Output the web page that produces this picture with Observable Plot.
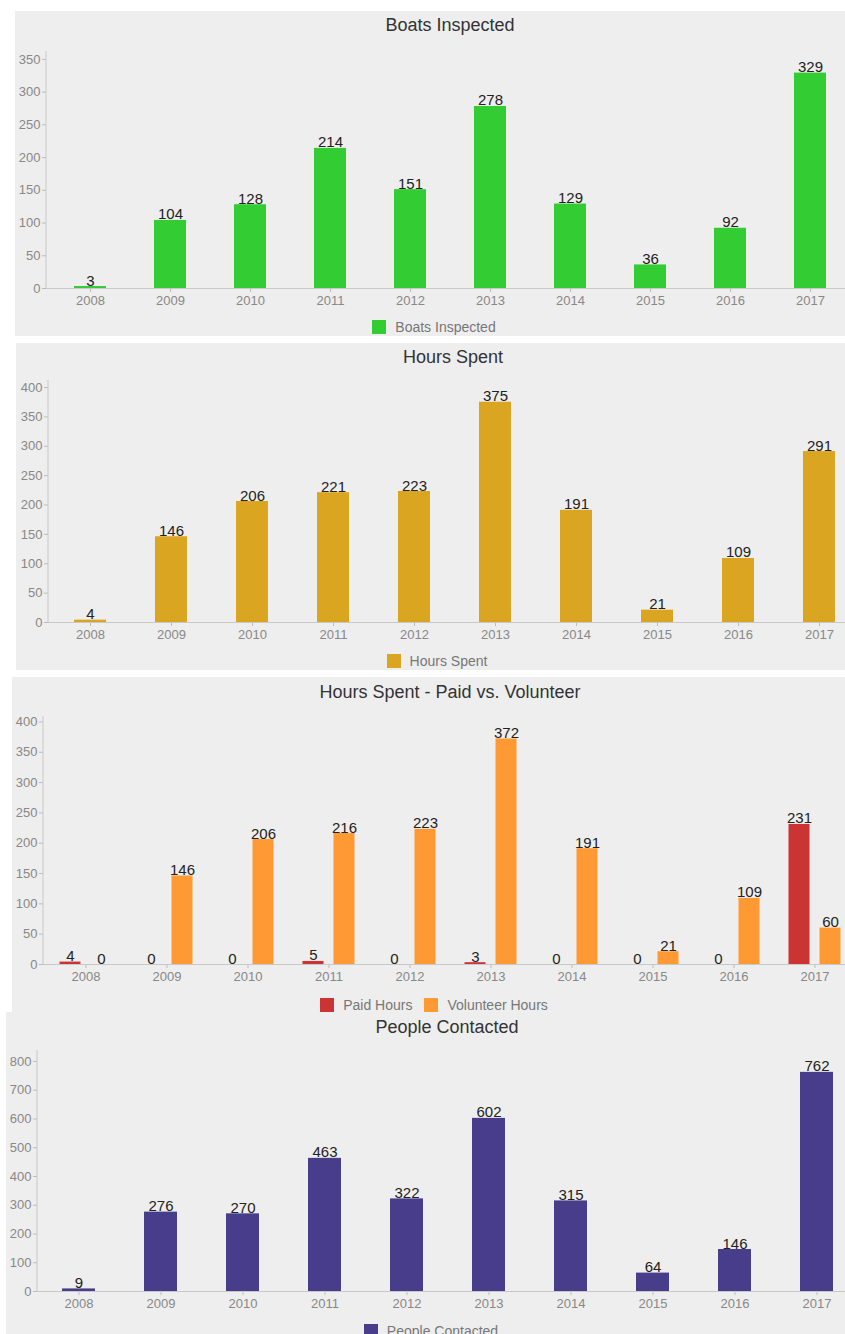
<!DOCTYPE html>
<html>
<head>
<meta charset="utf-8">
<script src="https://cdn.jsdelivr.net/npm/d3@7"></script>
<script src="https://cdn.jsdelivr.net/npm/@observablehq/plot@0.6"></script>
<style>
  html, body { margin: 0; padding: 0; background: #fff; overflow: hidden; width: 845px; height: 1334px; }
  body { position: relative; font-family: "Liberation Sans", Arial, Helvetica, sans-serif; }
  .panel { position: absolute; background: #eeeeee; overflow: hidden; }
  .title { position: absolute; left: 0; width: 100%; text-align: center; font-size: 18px; color: #333; line-height: 20px; }
  .legend { position: absolute; left: 0; width: 100%; box-sizing: border-box; padding-right: 32px; display: flex; justify-content: center; align-items: center; gap: 12px; font-size: 14px; color: #777; line-height: 16px; }
  .legend .item { display: flex; align-items: center; gap: 9px; }
  .legend .sw { width: 14px; height: 14px; display: inline-block; }
  .panel svg { position: absolute; left: 0; top: 0; }
</style>
</head>
<body>
<script>
// ---- data ----
const years = ["2008","2009","2010","2011","2012","2013","2014","2015","2016","2017"];
const boatsInspected = [3,104,128,214,151,278,129,36,92,329];
const hoursSpent = [4,146,206,221,223,375,191,21,109,291];
const paidHours = [4,0,0,5,0,3,0,0,0,231];
const volunteerHours = [0,146,206,216,223,372,191,21,109,60];
const peopleContacted = [9,276,270,463,322,602,315,64,146,762];

const titles = ["Boats Inspected","Hours Spent","Hours Spent - Paid vs. Volunteer","People Contacted"];
const colors = { boats: "#33cc33", hours: "#daa520", paid: "#cc3333", volunteer: "#ff9933", people: "#483d8b" };

const FONT = '"Liberation Sans", Arial, Helvetica, sans-serif';

function table(values) { return years.map((y, i) => ({year: y, value: values[i]})); }

function makePanel(cfg) {
  const div = document.createElement("div");
  div.className = "panel";
  Object.assign(div.style, {left: cfg.left + "px", top: cfg.top + "px", width: cfg.width + "px", height: cfg.height + "px"});
  document.body.appendChild(div);

  const svgH = cfg.y0 + 28;
  const plot = Plot.plot({
    width: cfg.width,
    height: svgH,
    marginLeft: cfg.mL,
    marginRight: cfg.mR,
    marginTop: cfg.mT,
    marginBottom: svgH - cfg.y0,
    style: {background: "transparent", fontFamily: FONT, fontSize: "13px", color: "#888", overflow: "visible"},
    x: {type: "band", domain: years, paddingInner: cfg.pi, paddingOuter: cfg.pi / 2, label: null, tickSize: 4, tickPadding: 3},
    y: {domain: [0, cfg.yMax], ticks: cfg.yTicks, label: null, tickSize: 4, tickPadding: 2},
    marks: [
      ...cfg.marks,
      Plot.ruleY([0], {stroke: "#c8c8c8", strokeWidth: 1})
    ]
  });
  // vertical y-axis line, placed from the plot's own scales
  const xs = plot.scale("x"), ys = plot.scale("y");
  d3.select(plot).append("line")
    .attr("x1", xs.range[0]).attr("x2", xs.range[0])
    .attr("y1", ys.range[0]).attr("y2", ys.range[1])
    .attr("stroke", "#c8c8c8");
  d3.select(plot).selectAll("g[aria-label='y-axis tick'] path, g[aria-label='x-axis tick'] path").attr("stroke", "#bbb");
  div.appendChild(plot);

  const t = document.createElement("div");
  t.className = "title";
  t.style.top = (cfg.titleY - 10) + "px";
  t.textContent = cfg.title;
  div.appendChild(t);

  const lg = document.createElement("div");
  lg.className = "legend";
  lg.style.top = (cfg.legendY - 8) + "px";
  for (const [name, col] of cfg.legend) {
    const it = document.createElement("span");
    it.className = "item";
    const sw = document.createElement("span");
    sw.className = "sw"; sw.style.background = col;
    const tx = document.createElement("span");
    tx.textContent = name;
    it.appendChild(sw); it.appendChild(tx);
    lg.appendChild(it);
  }
  div.appendChild(lg);
}

function simpleMarks(values, color) {
  const d = table(values);
  return [
    Plot.barY(d, {x: "year", y: "value", fill: color}),
    Plot.text(d, {x: "year", y: "value", text: d => String(d.value), lineAnchor: "bottom", dy: -1, fill: "#222", fontSize: 15})
  ];
}

// Panel 1
makePanel({
  left: 15, top: 11, width: 870, height: 325,
  title: titles[0], titleY: 14,
  mL: 31, mR: 31, mT: 40, y0: 277, yMax: 362, yTicks: [0,50,100,150,200,250,300,350],
  pi: 0.6,
  marks: simpleMarks(boatsInspected, colors.boats),
  legend: [["Boats Inspected", colors.boats]], legendY: 316
});

// Panel 2
makePanel({
  left: 16, top: 343, width: 874, height: 327,
  title: titles[1], titleY: 14,
  mL: 32, mR: 28, mT: 37, y0: 279, yMax: 412, yTicks: [0,50,100,150,200,250,300,350,400],
  pi: 0.6,
  marks: simpleMarks(hoursSpent, colors.hours),
  legend: [["Hours Spent", colors.hours]], legendY: 318
});

// Panel 3 (grouped)
const paidT = table(paidHours), volT = table(volunteerHours);
makePanel({
  left: 12, top: 677, width: 876, height: 335,
  title: titles[2], titleY: 15,
  mL: 31, mR: 31, mT: 39, y0: 287, yMax: 409, yTicks: [0,50,100,150,200,250,300,350,400],
  pi: 0.742,
  marks: [
    Plot.barY(paidT, {x: "year", y: "value", fill: colors.paid, dx: -15.5}),
    Plot.barY(volT, {x: "year", y: "value", fill: colors.volunteer, dx: 15.5}),
    Plot.text(paidT, {x: "year", y: "value", text: d => String(d.value), lineAnchor: "bottom", dy: -1, dx: -15.5, fill: "#222", fontSize: 15}),
    Plot.text(volT, {x: "year", y: "value", text: d => String(d.value), lineAnchor: "bottom", dy: -1, dx: 15.5, fill: "#222", fontSize: 15})
  ],
  legend: [["Paid Hours", colors.paid], ["Volunteer Hours", colors.volunteer]], legendY: 328
});

// Panel 4
makePanel({
  left: 6, top: 1012, width: 882, height: 340,
  title: titles[3], titleY: 15,
  mL: 31, mR: 30, mT: 38, y0: 279, yMax: 838, yTicks: [0,100,200,300,400,500,600,700,800],
  pi: 0.6,
  marks: simpleMarks(peopleContacted, colors.people),
  legend: [["People Contacted", colors.people]], legendY: 319
});
</script>
</body>
</html>
